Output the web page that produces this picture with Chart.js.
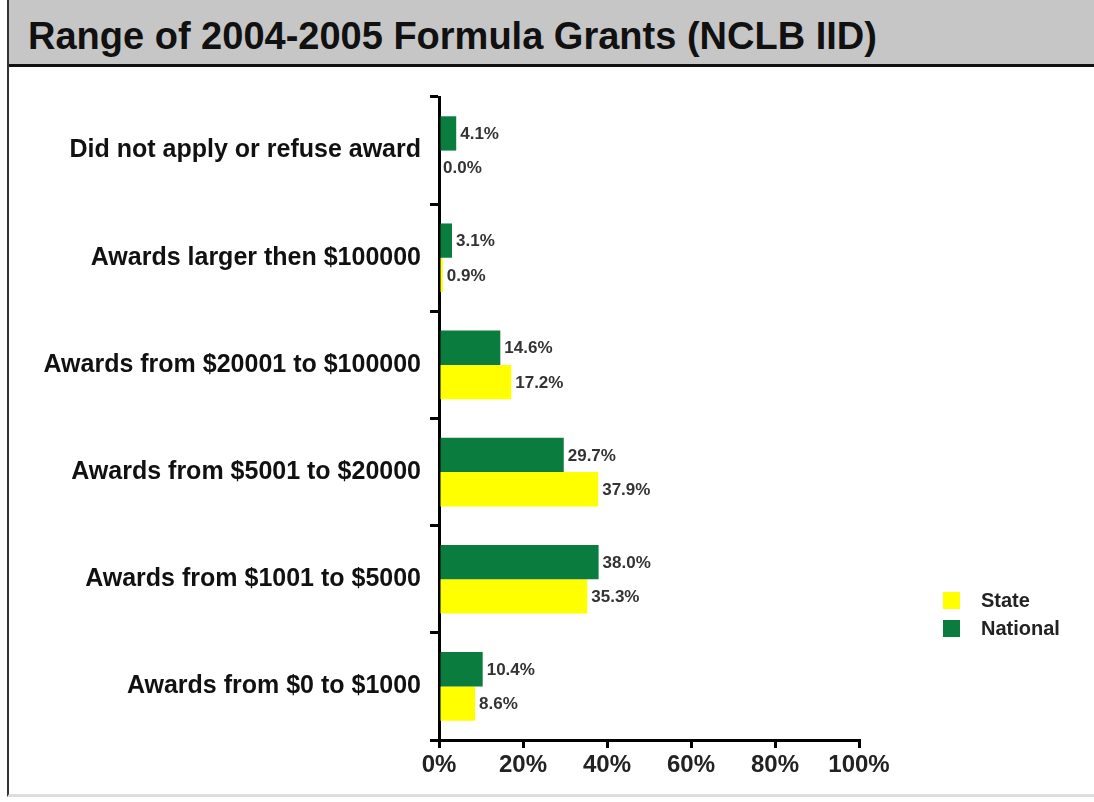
<!DOCTYPE html>
<html>
<head>
<meta charset="utf-8">
<style>
    body { margin: 0; width: 1094px; height: 802px; background: #fff; overflow: hidden; font-family: "Liberation Sans", Arial, sans-serif; position: relative; }
    #frame { position: absolute; left: 7px; top: 0; width: 1087px; height: 797px; border-left: 2px solid #333; border-bottom: 3px solid #ddd; box-sizing: border-box; }
    #title { position: absolute; left: 9px; top: 0; width: 1085px; height: 67px; background: #c6c6c6; border-bottom: 3px solid #111; box-sizing: border-box; font-weight: bold; font-size: 38px; color: #111; padding: 16px 0 0 19px; line-height: 40px; }
    #wrap { position: absolute; left: 9px; top: 67px; width: 1085px; height: 728px; }
</style>
</head>
<body>
<div id="frame"></div>
<div id="title">Range of 2004-2005 Formula Grants (NCLB IID)</div>
<div id="wrap"><canvas id="bar"></canvas></div>
<script src="https://cdn.jsdelivr.net/npm/chart.js"></script>
<script>
    const categories = ['Did not apply or refuse award', 'Awards larger then $100000', 'Awards from $20001 to $100000',
        'Awards from $5001 to $20000', 'Awards from $1001 to $5000', 'Awards from $0 to $1000'];
    const national = [4.1, 3.1, 14.6, 29.7, 38.0, 10.4];
    const state = [0.0, 0.9, 17.2, 37.9, 35.3, 8.6];
    const xTicks = [0, 20, 40, 60, 80, 100];

    const green = '#0a7d3e';
    const yellow = '#ffff00';

    // value labels at the end of each bar
    const valueLabels = {
        id: 'valueLabels',
        afterDatasetsDraw(chart) {
            const ctx = chart.ctx;
            ctx.save();
            ctx.font = 'bold 17px "Liberation Sans", Arial, sans-serif';
            ctx.fillStyle = '#333';
            ctx.textBaseline = 'middle';
            chart.data.datasets.forEach((ds, i) => {
                chart.getDatasetMeta(i).data.forEach((bar, j) => {
                    ctx.fillText(ds.data[j].toFixed(1) + '%', bar.x + 4, bar.y + 1);
                });
            });
            ctx.restore();
        }
    };

    // legend drawn at the lower right, State first
    const sideLegend = {
        id: 'sideLegend',
        afterDraw(chart) {
            const ctx = chart.ctx;
            const items = [chart.data.datasets[1], chart.data.datasets[0]];
            ctx.save();
            ctx.font = 'bold 20px "Liberation Sans", Arial, sans-serif';
            ctx.textBaseline = 'middle';
            items.forEach((ds, k) => {
                const y = 525 + k * 28;
                ctx.fillStyle = ds.backgroundColor;
                ctx.fillRect(934, y, 17, 17);
                ctx.fillStyle = '#222';
                ctx.fillText(ds.label, 972, y + 9);
            });
            ctx.restore();
        }
    };

    new Chart(document.getElementById('bar'), {
        type: 'bar',
        data: {
            labels: categories,
            datasets: [
                { label: 'National', data: national, backgroundColor: green },
                { label: 'State', data: state, backgroundColor: yellow }
            ]
        },
        options: {
            indexAxis: 'y',
            responsive: true,
            maintainAspectRatio: false,
            animation: false,
            categoryPercentage: 0.64,
            barPercentage: 1.0,
            layout: { padding: { top: 30, right: 235, bottom: 0, left: 0 } },
            plugins: {
                legend: { display: false },
                tooltip: { enabled: false }
            },
            scales: {
                x: {
                    min: 0,
                    max: 100,
                    afterBuildTicks: s => { s.ticks = xTicks.map(v => ({ value: v })); },
                    afterFit: s => { s.height = 55; },
                    border: { color: '#000', width: 3 },
                    grid: { drawOnChartArea: false, color: '#000', lineWidth: 3, tickLength: 8 },
                    ticks: {
                        callback: v => v + '%',
                        color: '#222',
                        padding: 3,
                        font: { family: '"Liberation Sans", Arial, sans-serif', size: 24, weight: 'bold' }
                    }
                },
                y: {
                    afterFit: s => { s.width = 430; },
                    border: { color: '#000', width: 3 },
                    grid: { drawOnChartArea: false, color: '#000', lineWidth: 3, tickLength: 9, offset: true },
                    ticks: {
                        color: '#111',
                        padding: 9,
                        font: { family: '"Liberation Sans", Arial, sans-serif', size: 25, weight: 'bold' }
                    }
                }
            }
        },
        plugins: [valueLabels, sideLegend]
    });
</script>
</body>
</html>
